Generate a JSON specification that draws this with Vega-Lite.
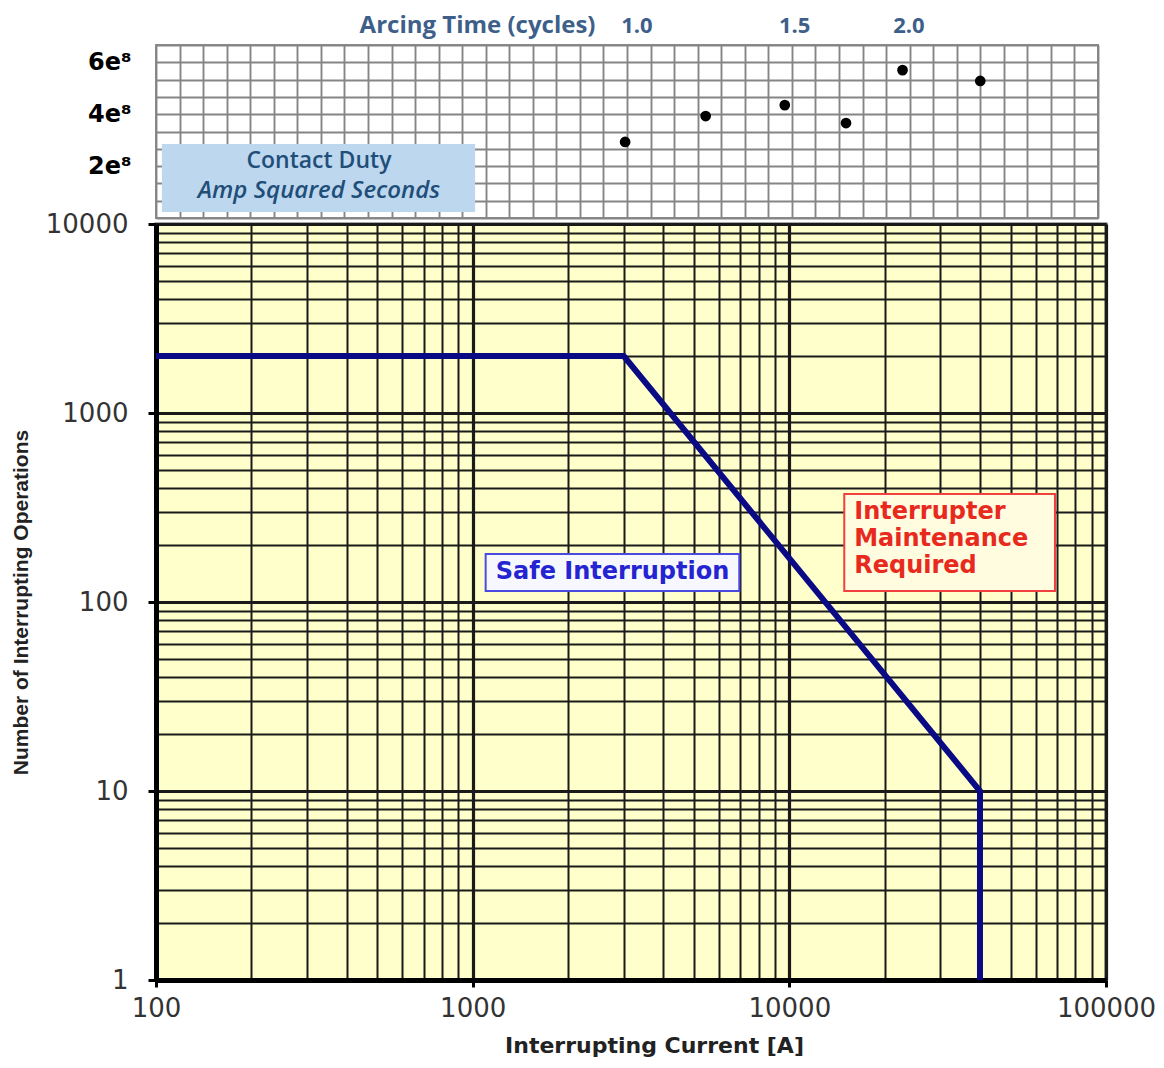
{
  "$schema": "https://vega.github.io/schema/vega-lite/v6.json",
  "background": "white",
  "padding": {"left": 8, "top": 12, "right": 5, "bottom": 5},
  "spacing": 6,
  "bounds": "flush",
  "config": {"font": "DejaVu Sans"},
  "vconcat": [
    {
      "width": 942,
      "height": 173,
      "view": {"fill": "white", "stroke": "#8c8c8c", "strokeWidth": 2},
      "encoding": {
        "x": {"field": "grid_x", "type": "quantitative", "scale": {"domain": [0, 40], "nice": false, "zero": false},
          "axis": {"orient": "top", "ticks": false, "domain": false, "grid": true, "gridColor": "#858585", "gridWidth": 1.9,
            "gridOpacity": {"condition": {"test": "datum.value == floor(datum.value)", "value": 1}, "value": 0},
            "values": [0,1,2,3,4,5,6,7,8,9,10,11,12,13,14,15,16,17,18,19,20,20.4,21,22,23,24,25,26,27,27.1,28,29,30,31,31.95,32,33,34,35,36,37,38,39,40],
            "labelExpr": "datum.value == 20.4 ? '1.0' : (datum.value == 27.1 ? '1.5' : (datum.value == 31.95 ? '2.0' : ''))",
            "labelOverlap": false, "labelFlush": false, "labelFont": "Open Sans", "labelFontWeight": "bold", "labelFontSize": 22, "labelColor": "#3E5F8A", "labelPadding": 8,
            "title": "Arcing Time (cycles)", "titleFont": "Open Sans", "titleFontWeight": "bold", "titleFontSize": 24, "titleColor": "#3E5F8A",
            "titleX": 439, "titleY": -8, "titleAlign": "right", "titleBaseline": "bottom", "titleAnchor": null}},
        "y": {"field": "contact_duty", "type": "quantitative", "scale": {"domain": [0, 666666667], "nice": false, "zero": false},
          "axis": {"title": null, "ticks": false, "domain": false, "grid": true, "gridColor": "#858585", "gridWidth": 1.9,
            "values": [0, 66666667, 133333333, 200000000, 266666667, 333333333, 400000000, 466666667, 533333333, 600000000, 666666667],
            "labelExpr": "(abs(datum.value/2e8 - round(datum.value/2e8)) < 0.001 && datum.value > 1) ? format(datum.value/1e8, 'd') + 'e⁸' : ''",
            "labelOverlap": false, "labelFont": "DejaVu Sans", "labelFontWeight": "bold", "labelFontSize": 24, "labelColor": "#000", "labelPadding": 25}}
      },
      "layer": [
        {
          "data": {"values": [{"grid_x": 0.25, "grid_x_end": 13.55, "contact_duty": 23000000, "contact_duty_high": 285000000}]},
          "mark": {"type": "rect", "fill": "#BDD7EE"},
          "encoding": {
            "x2": {"field": "grid_x_end"},
            "y2": {"field": "contact_duty_high"}
          }
        },
        {
          "data": {"values": [
            {"grid_x": 19.92, "contact_duty": 293000000},
            {"grid_x": 23.34, "contact_duty": 393000000},
            {"grid_x": 26.7, "contact_duty": 435000000},
            {"grid_x": 29.3, "contact_duty": 366000000},
            {"grid_x": 31.7, "contact_duty": 570000000},
            {"grid_x": 35.0, "contact_duty": 528000000}
          ]},
          "mark": {"type": "point", "filled": true, "color": "#000", "size": 115, "opacity": 1}
        },
        {
          "data": {"values": [{"grid_x": 6.92, "contact_duty": 219700000, "label": "Contact Duty"}]},
          "mark": {"type": "text", "font": "Open Sans", "fontSize": 23, "fontWeight": 600, "color": "#1F4E79", "align": "center", "baseline": "middle"},
          "encoding": {"text": {"field": "label"}}
        },
        {
          "data": {"values": [{"grid_x": 6.92, "contact_duty": 104000000, "label": "Amp Squared Seconds"}]},
          "mark": {"type": "text", "font": "Open Sans", "fontSize": 24, "fontWeight": 600, "fontStyle": "italic", "color": "#1F4E79", "align": "center", "baseline": "middle"},
          "encoding": {"text": {"field": "label"}}
        }
      ]
    },
    {
      "width": 950,
      "height": 756,
      "view": {"fill": "#FFFFCC", "stroke": "#555", "strokeWidth": 3},
      "encoding": {
        "x": {"field": "current", "type": "quantitative", "scale": {"type": "log", "domain": [100, 100000], "nice": false},
          "axis": {"title": "Interrupting Current [A]", "titleFont": "DejaVu Sans", "titleFontWeight": "bold", "titleFontSize": 22, "titleColor": "#222", "titlePadding": 14,
            "titleX": 498, "titleAnchor": null, "titleAlign": "center",
            "values": [100,200,300,400,500,600,700,800,900,1000,2000,3000,4000,5000,6000,7000,8000,9000,10000,20000,30000,40000,50000,60000,70000,80000,90000,100000],
            "labelExpr": "abs(log(datum.value)/LN10 - round(log(datum.value)/LN10)) < 0.001 ? format(datum.value, 'd') : ''",
            "labelOverlap": false, "labelFlush": false, "labelFont": "DejaVu Sans", "labelFontSize": 26, "labelColor": "#333", "labelPadding": 8,
            "tickSize": 7, "tickColor": "#000", "tickWidth": 3,
            "tickOpacity": {"condition": {"test": "abs(log(datum.value)/LN10 - round(log(datum.value)/LN10)) < 0.001", "value": 1}, "value": 0},
            "grid": true, "gridColor": "#1a1a1a", "gridOpacity": 1,
            "gridWidth": {"condition": {"test": "abs(log(datum.value)/LN10 - round(log(datum.value)/LN10)) < 0.001", "value": 3.2}, "value": 2},
            "domain": true, "domainColor": "#000", "domainWidth": 5}},
        "y": {"field": "operations", "type": "quantitative", "scale": {"type": "log", "domain": [1, 10000], "nice": false},
          "axis": {"title": "Number of Interrupting Operations", "titleFont": "Liberation Sans", "titleFontWeight": "bold", "titleFontSize": 21, "titleColor": "#222", "titlePadding": 14,
            "values": [1,2,3,4,5,6,7,8,9,10,20,30,40,50,60,70,80,90,100,200,300,400,500,600,700,800,900,1000,2000,3000,4000,5000,6000,7000,8000,9000,10000],
            "labelExpr": "abs(log(datum.value)/LN10 - round(log(datum.value)/LN10)) < 0.001 ? format(datum.value, 'd') : ''",
            "labelOverlap": false, "labelFlush": false, "labelFont": "DejaVu Sans", "labelFontSize": 26, "labelColor": "#333", "labelPadding": 20,
            "tickSize": 8, "tickColor": "#000", "tickWidth": 3,
            "tickOpacity": {"condition": {"test": "abs(log(datum.value)/LN10 - round(log(datum.value)/LN10)) < 0.001", "value": 1}, "value": 0},
            "grid": true, "gridColor": "#1a1a1a", "gridOpacity": 1,
            "gridWidth": {"condition": {"test": "abs(log(datum.value)/LN10 - round(log(datum.value)/LN10)) < 0.001", "value": 3.2}, "value": 2},
            "domain": true, "domainColor": "#000", "domainWidth": 5}}
      },
      "layer": [
        {
          "data": {"values": [
            {"seq": 1, "current": 100, "operations": 2000},
            {"seq": 2, "current": 3000, "operations": 2000},
            {"seq": 3, "current": 40000, "operations": 10},
            {"seq": 4, "current": 40000, "operations": 1}
          ]},
          "mark": {"type": "line", "color": "#0A0A85", "strokeWidth": 6, "clip": true},
          "encoding": {"order": {"field": "seq", "type": "quantitative"}}
        },
        {
          "data": {"values": [{"current": 1099, "current_end": 6950, "operations": 114.4, "operations_high": 179.6}]},
          "mark": {"type": "rect", "fill": "#F7F7FF", "stroke": "#4A4AE0", "strokeWidth": 2},
          "encoding": {"x2": {"field": "current_end"}, "y2": {"field": "operations_high"}}
        },
        {
          "data": {"values": [{"current": 2764, "operations": 144, "label": "Safe Interruption"}]},
          "mark": {"type": "text", "font": "DejaVu Sans", "fontWeight": "bold", "fontSize": 24, "color": "#2424D0", "align": "center", "baseline": "middle"},
          "encoding": {"text": {"field": "label"}}
        },
        {
          "data": {"values": [{"current": 14910, "current_end": 69000, "operations": 114.4, "operations_high": 372.7}]},
          "mark": {"type": "rect", "fill": "#FFFCE0", "stroke": "#F04040", "strokeWidth": 2},
          "encoding": {"x2": {"field": "current_end"}, "y2": {"field": "operations_high"}}
        },
        {
          "data": {"values": [
            {"current": 16030, "operations": 299, "label": "Interrupter"},
            {"current": 16030, "operations": 215, "label": "Maintenance"},
            {"current": 16030, "operations": 155, "label": "Required"}
          ]},
          "mark": {"type": "text", "font": "DejaVu Sans", "fontWeight": "bold", "fontSize": 24, "color": "#E82A1E", "align": "left", "baseline": "middle"},
          "encoding": {"text": {"field": "label"}}
        }
      ]
    }
  ]
}
